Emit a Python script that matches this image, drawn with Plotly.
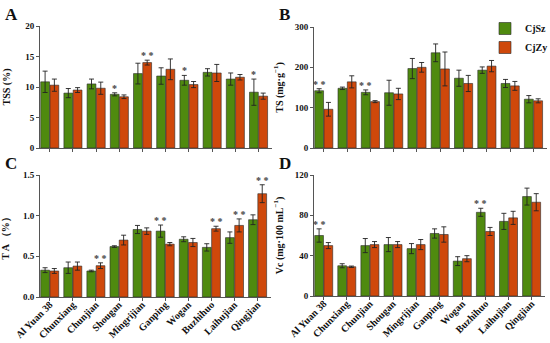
import plotly.graph_objects as go

categories = ["Al Yuan 38", "Chunxiang", "Chunjian", "Shougan", "Mingrijian",
              "Ganping", "Wogan", "Buzhihuo", "Laihujian", "Qingjian"]
series_names = ["CjSz", "CjZy"]

# Panel A: TSS (%)
tss_sz = [10.85, 9.0, 10.5, 8.8, 12.2, 11.8, 11.1, 12.4, 11.3, 9.15]
tss_sz_err = [1.75, 0.75, 0.8, 0.25, 1.7, 1.35, 0.8, 0.6, 1.0, 2.15]
tss_zy = [10.3, 9.5, 9.8, 8.4, 14.0, 12.9, 10.4, 12.3, 11.6, 8.5]
tss_zy_err = [1.0, 0.4, 1.0, 0.3, 0.4, 1.7, 0.5, 1.4, 0.45, 0.5]
tss_sig = [(3, 0, "*"), (4, 1, "**"), (6, 0, "*"), (9, 0, "*")]

# Panel B: TS (mg/g)
ts_sz = [142, 148, 138, 137, 197, 236, 173, 193, 160, 121]
ts_sz_err = [5, 3, 6, 31, 25, 22, 20, 8, 10, 9]
ts_zy = [96, 164, 115, 134, 200, 196, 160, 203, 154, 117]
ts_zy_err = [17, 15, 2.5, 14, 12, 42, 20, 14, 11, 5]
ts_sig = [(0, 0, "**"), (2, 0, "**")]

# Panel C: TA (%)
ta_sz = [0.33, 0.36, 0.32, 0.62, 0.83, 0.81, 0.71, 0.61, 0.73, 0.95]
ta_sz_err = [0.03, 0.07, 0.01, 0.01, 0.05, 0.075, 0.03, 0.045, 0.07, 0.06]
ta_zy = [0.32, 0.38, 0.385, 0.70, 0.81, 0.65, 0.67, 0.84, 0.88, 1.27]
ta_zy_err = [0.03, 0.05, 0.035, 0.06, 0.04, 0.02, 0.05, 0.03, 0.08, 0.11]
ta_sig = [(2, 1, "**"), (5, 0, "**"), (7, 1, "**"), (8, 1, "**"), (9, 1, "**")]

# Panel D: Vc (mg/100 mL)
vc_sz = [60, 30, 50, 51, 47, 62, 34.6, 83, 74, 98.6]
vc_sz_err = [6.6, 2, 7, 7, 5, 4.6, 4.4, 4, 8, 8.4]
vc_zy = [50, 29, 51, 51, 51, 61, 37, 64, 77.5, 93]
vc_zy_err = [3, 0.7, 3, 3, 5, 7.6, 3, 4, 6.5, 8.5]
vc_sig = [(0, 0, "**"), (7, 0, "**")]

y_titles = ["TSS (%)", "TS (mg·g<sup>−1</sup>)", "T A （%）", "Vc (mg·100 mL<sup>−1</sup>)"]
y_ranges = [[0, 20], [0, 300], [0, 1.5], [0, 120]]
y_dtick = [5, 100, 0.5, 40]
y_fmt = ["", "", ".1f", ""]
y_standoff = [12, 9, 12, 9]
letters = ["A", "B", "C", "D"]

GREEN = "#4f8a0f"
ORANGE = "#cf480b"
FONT = "Liberation Serif"
W, H = 550, 343

# panel pixel boxes: (left, right, top, bottom)
boxes = [(40, 272, 26, 148), (314, 547, 27, 148), (40, 271, 175, 297), (314, 545, 175, 296)]

panels = [
    (tss_sz, tss_sz_err, tss_zy, tss_zy_err, tss_sig),
    (ts_sz, ts_sz_err, ts_zy, ts_zy_err, ts_sig),
    (ta_sz, ta_sz_err, ta_zy, ta_zy_err, ta_sig),
    (vc_sz, vc_sz_err, vc_zy, vc_zy_err, vc_sig),
]

fig = go.Figure()
annotations = []
layout = {}
for i, (sz, sze, zy, zye, sig) in enumerate(panels):
    n = "" if i == 0 else str(i + 1)
    xa, ya = "x" + n, "y" + n
    for j, (vals, errs, col) in enumerate([(sz, sze, GREEN), (zy, zye, ORANGE)]):
        fig.add_trace(go.Bar(
            x=categories, y=vals, name=series_names[j], xaxis=xa, yaxis=ya,
            marker=dict(color=col, line=dict(color="#2a2a2a", width=0.6)),
            error_y=dict(type="data", array=errs, color="#222222", thickness=0.9, width=2.5),
            showlegend=(i == 1), legendgroup=series_names[j],
        ))
    l, r, t, b = boxes[i]
    layout["xaxis" + n] = dict(
        domain=[l / W, r / W], anchor=ya, type="category", range=[-0.42, 9.58],
        showline=True, linecolor="#555", linewidth=1, ticks="outside", ticklen=3,
        tickcolor="#555", showgrid=False, zeroline=False, automargin=False,
        showticklabels=(i >= 2), tickangle=-45, ticklabelstandoff=-6,
        tickfont=dict(family=FONT, size=10, color="#111", weight=700),
    )
    layout["yaxis" + n] = dict(
        domain=[1 - b / H, 1 - t / H], anchor=xa, range=y_ranges[i], dtick=y_dtick[i],
        tickformat=y_fmt[i], automargin=False,
        showline=True, linecolor="#555", linewidth=1, ticks="outside", ticklen=3,
        tickcolor="#555", showgrid=False, zeroline=False,
        tickfont=dict(family=FONT, size=9, color="#111", weight=700),
        title=dict(text=y_titles[i], standoff=y_standoff[i],
                   font=dict(family=FONT, size=10, color="#111", weight=700)),
    )
    for (ci, s, txt) in sig:
        top = (sz[ci] + sze[ci]) if s == 0 else (zy[ci] + zye[ci])
        annotations.append(dict(
            x=categories[ci], y=top, xref=xa, yref=ya, text=txt.replace("**", "* *"),
            showarrow=False, xshift=(-4.6 if s == 0 else 4.6), yanchor="bottom", yshift=-3,
            font=dict(family=FONT, size=10, color="#444", weight=700),
        ))
    lx = 3 if i % 2 == 0 else 277
    ly = 3 if i < 2 else 152
    annotations.append(dict(
        x=lx / W, y=1 - ly / H, xref="paper", yref="paper", text="<b>%s</b>" % letters[i],
        showarrow=False, xanchor="left", yanchor="top",
        font=dict(family=FONT, size=17, color="#111"),
    ))

fig.update_layout(
    width=W, height=H, margin=dict(l=0, r=0, t=0, b=0, autoexpand=False),
    paper_bgcolor="white", plot_bgcolor="white",
    barmode="group", bargap=0.2, bargroupgap=0.05,
    annotations=annotations,
    legend=dict(x=485 / W, y=1 - 14 / H, xanchor="left", yanchor="top",
                bgcolor="rgba(0,0,0,0)", tracegroupgap=0, itemwidth=30,
                font=dict(family=FONT, size=10, color="#111", weight=700)),
    **layout,
)
fig.write_html("out.html", config={"displayModeBar": False},
               post_script="document.body.style.margin='0';")
